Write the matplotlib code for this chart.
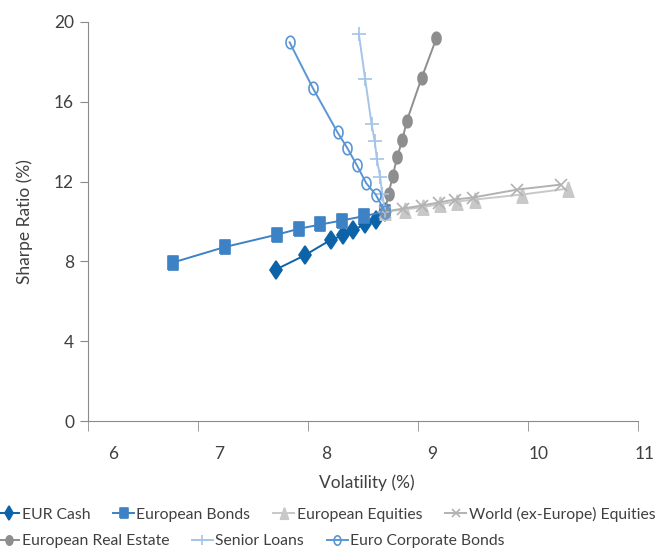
import numpy as np
import matplotlib
matplotlib.use('Agg')
import matplotlib.pyplot as plt

plt.rcParams['font.family'] = ['Lato', 'DejaVu Sans']

# volatility (%) / sharpe ratio (%)
eur_cash_x = [7.53, 7.80, 8.05, 8.16, 8.26, 8.37, 8.47, 8.556]
eur_cash_y = [7.59, 8.30, 9.09, 9.30, 9.59, 9.85, 10.10, 10.5]

eu_bonds_x = [6.56, 7.05, 7.54, 7.75, 7.95, 8.15, 8.36, 8.556]
eu_bonds_y = [7.94, 8.72, 9.34, 9.64, 9.85, 10.05, 10.27, 10.5]

eu_eq_x = [8.556, 8.74, 8.91, 9.07, 9.23, 9.40, 9.84, 10.28]
eu_eq_y = [10.5, 10.60, 10.72, 10.87, 11.00, 11.10, 11.35, 11.65]

world_eq_x = [8.556, 8.73, 8.90, 9.06, 9.21, 9.38, 9.80, 10.21]
world_eq_y = [10.5, 10.65, 10.80, 10.95, 11.10, 11.20, 11.60, 11.85]

real_est_x = [8.556, 8.59, 8.63, 8.67, 8.72, 8.76, 8.90, 9.04]
real_est_y = [10.5, 11.39, 12.30, 13.22, 14.10, 15.02, 17.19, 19.19]

senior_x = [8.556, 8.53, 8.51, 8.48, 8.46, 8.43, 8.37, 8.31]
senior_y = [10.5, 11.40, 12.25, 13.14, 14.02, 14.89, 17.14, 19.42]

corp_x = [8.556, 8.47, 8.38, 8.29, 8.20, 8.11, 7.88, 7.66]
corp_y = [10.5, 11.34, 11.92, 12.84, 13.70, 14.47, 16.67, 18.98]

xticks = [6, 7, 8, 9, 10, 11]
yticks = [0, 4, 8, 12, 16, 20]

# tall marker shapes (the original markers are a bit narrow)
t = np.linspace(0, 2 * np.pi, 40)
ellipse = list(zip(0.72 * np.cos(t), np.sin(t)))
tall_sq = [(-0.72, -1), (0.72, -1), (0.72, 1), (-0.72, 1), (-0.72, -1)]
tall_tri = [(0, 1), (-0.7, -1), (0.7, -1), (0, 1)]

series = [
    ('EUR Cash', eur_cash_x, eur_cash_y, '#0c63a8', 'd', 9.5, True),
    ('European Bonds', eu_bonds_x, eu_bonds_y, '#3d82c4', tall_sq, 9.5, True),
    ('European Equities', eu_eq_x, eu_eq_y, '#c8c8c8', tall_tri, 11, True),
    ('World (ex-Europe) Equities', world_eq_x, world_eq_y, '#b2b2b2', 'x', 8, True),
    ('European Real Estate', real_est_x, real_est_y, '#8e8e8e', ellipse, 9, True),
    ('Senior Loans', senior_x, senior_y, '#a4c4e8', '+', 10, True),
    ('Euro Corporate Bonds', corp_x, corp_y, '#5a96d4', ellipse, 9, False),
]

fig = plt.figure(figsize=(6.6, 5.5), dpi=100)
ax = fig.add_axes([88 / 660, 1 - 421 / 550, 557 / 660, 399 / 550])

handles = []
for name, xs, ys, col, mk, ms, filled in series:
    ln, = ax.plot(xs, ys, color=col, lw=1.4, marker=mk, markersize=ms,
                  markerfacecolor=col if filled else 'none', markeredgecolor=col,
                  markeredgewidth=1.2, label=name)
    handles.append(ln)

txt = '#404040'
axcol = '#8a8a8a'
x0 = 5.765
x1 = 10.935
ax.set_xlim(x0, 11.0)
ax.set_ylim(0, 20)
for s in ['top', 'right']:
    ax.spines[s].set_visible(False)
ax.spines['left'].set_color(axcol)
ax.spines['bottom'].set_color(axcol)
ax.spines['bottom'].set_bounds(x0, x1)

ax.set_xticks(xticks)
ax.set_xticks(np.linspace(x0, x1, 6), minor=True)
ax.tick_params(axis='x', which='major', length=0, pad=18, labelsize=12.5, labelcolor=txt)
ax.tick_params(axis='x', which='minor', length=7, color=axcol, direction='out')
ax.set_yticks(yticks)
ax.tick_params(axis='y', length=6, color=axcol, pad=4, labelsize=12.5, labelcolor=txt)

ax.set_xlabel('Volatility (%)', fontsize=12.5, color=txt, labelpad=9)
ax.set_ylabel('Sharpe Ratio (%)', fontsize=12.5, color=txt, labelpad=15)

leg_kw = dict(loc='center left', frameon=False, prop=dict(family='Lato', size=11.3),
              handlelength=1.35, handletextpad=0.15, columnspacing=1.45, borderpad=0,
              borderaxespad=0, labelcolor=txt, markerscale=0.75)
fig.legend(handles=handles[:4], bbox_to_anchor=(-0.003, 1 - 514 / 550), ncol=4, **leg_kw)
fig.legend(handles=handles[4:], bbox_to_anchor=(-0.003, 1 - 541 / 550), ncol=3, **leg_kw)

plt.savefig('out.png', dpi=100)
